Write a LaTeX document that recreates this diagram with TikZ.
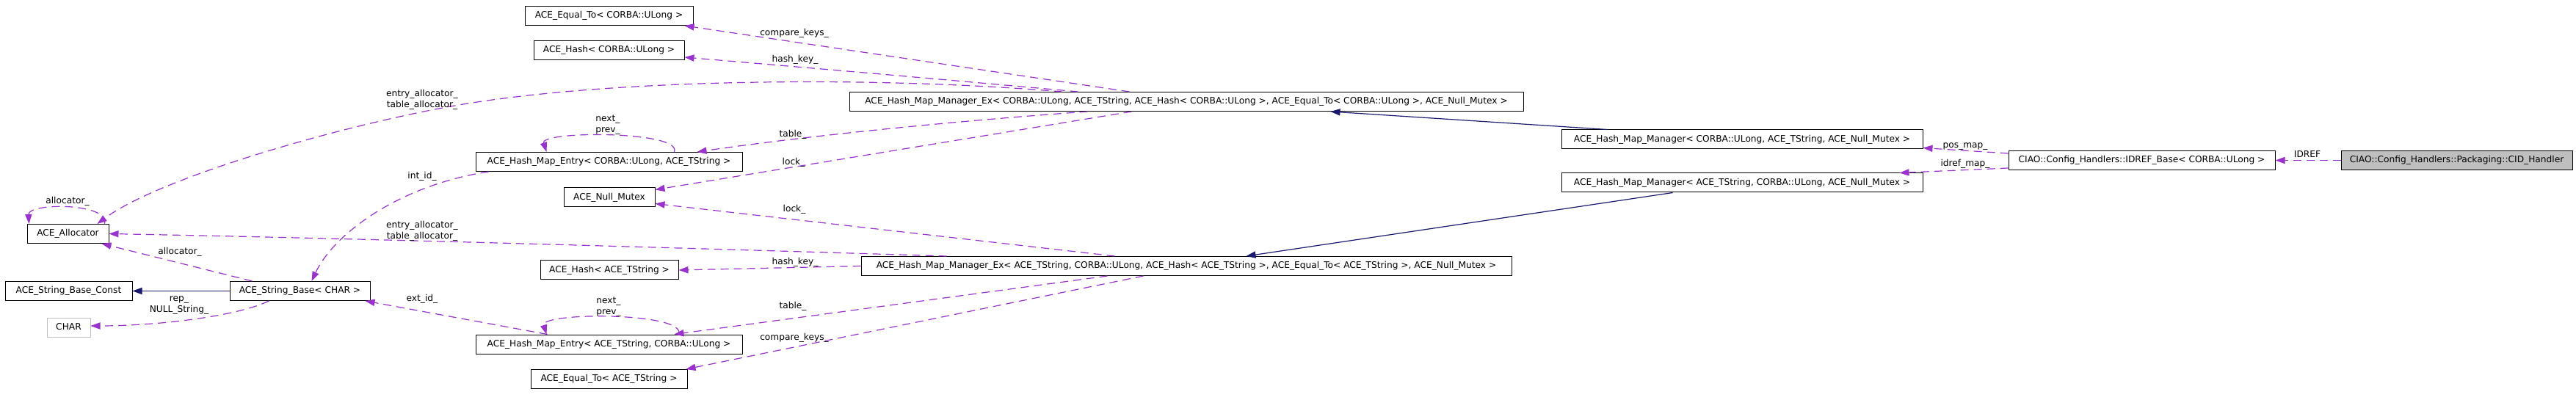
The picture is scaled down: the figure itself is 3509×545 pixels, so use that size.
\documentclass[tikz,border=0pt]{standalone}
\usepackage{fontspec}
\setmainfont{DejaVu Sans}
\usetikzlibrary{arrows.meta,calc}
\definecolor{usecol}{HTML}{9A32CD}
\definecolor{inhcol}{HTML}{191970}
\definecolor{greyS}{HTML}{BFBFBF}
\begin{document}
\begin{tikzpicture}[x=0.5pt,y=-0.5pt,
  every node/.style={font=\fontsize{6.1}{7.5}\selectfont},
  cls/.style={draw=black, line width=0.5pt, fill=white, inner sep=0pt, minimum height=13pt, text height=4.6pt, text depth=1.3pt},
  bw/.style={minimum width=#1*0.5pt},
  lbl/.style={align=center, inner sep=0pt},
  usedge/.style={draw=usecol, line width=0.6pt, dash pattern=on 5.5pt off 3.5pt, -{Triangle[length=6.5pt,width=4.6pt]}},
  inhedge/.style={draw=inhcol, line width=0.6pt, -{Triangle[length=6.5pt,width=4.6pt]}}]
\fill[white] (0,0) rectangle (3509,545);
\useasboundingbox (0,0) rectangle (3509,545);

% classes
\node[cls,bw=229] (EqCU) at (829.5,21.5) {ACE\_Equal\_To< CORBA::ULong >};
\node[cls,bw=205] (HashCU) at (829.5,68.5) {ACE\_Hash< CORBA::ULong >};
\node[cls,bw=918] (ExCU) at (1616,138.5) {ACE\_Hash\_Map\_Manager\_Ex< CORBA::ULong, ACE\_TString, ACE\_Hash< CORBA::ULong >, ACE\_Equal\_To< CORBA::ULong >, ACE\_Null\_Mutex >};
\node[cls,bw=363] (EntryCU) at (829.5,220.5) {ACE\_Hash\_Map\_Entry< CORBA::ULong, ACE\_TString >};
\node[cls,bw=124] (NullMutex) at (830,269) {ACE\_Null\_Mutex};
\node[cls,bw=111] (Allocator) at (92.5,318.5) {ACE\_Allocator};
\node[cls,bw=173] (StrBaseConst) at (93.5,396.5) {ACE\_String\_Base\_Const};
\node[cls,bw=191] (StrBase) at (408.5,396.5) {ACE\_String\_Base< CHAR >};
\node[cls,bw=59,draw=greyS] (CHAR) at (93.5,446) {CHAR};
\node[cls,bw=188] (HashTS) at (830,368) {ACE\_Hash< ACE\_TString >};
\node[cls,bw=886] (ExTS) at (1616,362.5) {ACE\_Hash\_Map\_Manager\_Ex< ACE\_TString, CORBA::ULong, ACE\_Hash< ACE\_TString >, ACE\_Equal\_To< ACE\_TString >, ACE\_Null\_Mutex >};
\node[cls,bw=363] (EntryTS) at (829.5,469) {ACE\_Hash\_Map\_Entry< ACE\_TString, CORBA::ULong >};
\node[cls,bw=213] (EqTS) at (829.5,516.5) {ACE\_Equal\_To< ACE\_TString >};
\node[cls,bw=492] (HMMCU) at (2373,190) {ACE\_Hash\_Map\_Manager< CORBA::ULong, ACE\_TString, ACE\_Null\_Mutex >};
\node[cls,bw=492] (HMMTS) at (2373,249) {ACE\_Hash\_Map\_Manager< ACE\_TString, CORBA::ULong, ACE\_Null\_Mutex >};
\node[cls,bw=363] (IDREF) at (2917.5,218.5) {CIAO::Config\_Handlers::IDREF\_Base< CORBA::ULong >};
\node[cls,bw=315,fill=greyS] (CID) at (3346.5,218.5) {CIAO::Config\_Handlers::Packaging::CID\_Handler};

% usage edges (top map)
\draw[usedge] ($(ExCU.north west)+(382,0)$) -- ($(EqCU.south east)+(-12,0)$);
\draw[usedge] ($(ExCU.north west)+(312,0)$) .. controls (1250,105) and (1050,88) .. ($(HashCU.east)+(0,9.5)$);
\draw[usedge] ($(ExCU.north west)+(290,0)$) .. controls (1200,104) and (850,106) .. (631,142) .. controls (480,167) and (220,240) .. ($(Allocator.north east)+(-16,0)$);
\draw[usedge] ($(ExCU.south west)+(325,0)$) .. controls (1300,165) and (1100,185) .. ($(EntryCU.north east)+(-62,0)$);
\draw[usedge] ($(ExCU.south west)+(385,0)$) -- ($(NullMutex.north east)+(0,3)$);
\draw[usedge] ($(EntryCU.north east)+(-93,0)$) .. controls (930,178) and (735,178) .. ($(EntryCU.north west)+(97,0)$);
\draw[usedge] ($(EntryCU.south west)+(18,0)$) .. controls (545,252) and (455,318) .. ($(StrBase.north west)+(112,0)$);
% usage edges (bottom map)
\draw[usedge] ($(ExTS.north west)+(117,0)$) .. controls (1000,340) and (500,325) .. (Allocator.east);
\draw[usedge] ($(ExTS.north west)+(346,0)$) -- ($(NullMutex.south east)+(0,-5)$);
\draw[usedge] (ExTS.west) -- (HashTS.east);
\draw[usedge] ($(ExTS.south west)+(336,0)$) -- ($(EntryTS.north east)+(-93,0)$);
\draw[usedge] ($(ExTS.south west)+(385,0)$) -- ($(EqTS.north east)+(-2,0)$);
\draw[usedge] ($(EntryTS.north east)+(-87,0)$) .. controls (936,425) and (735,425) .. ($(EntryTS.north west)+(97,0)$);
\draw[usedge] ($(EntryTS.north west)+(98,0)$) -- ($(StrBase.south east)+(-7,0)$);
% string / allocator
\draw[usedge] ($(StrBase.north west)+(31,0)$) -- ($(Allocator.south east)+(-10,0)$);
\draw[usedge] ($(StrBase.south west)+(54,0)$) .. controls (320,432) and (210,444) .. ($(CHAR.east)+(0,-2)$);
\draw[usedge] ($(Allocator.north east)+(-6,0)$) .. controls (150,276) and (38,276) .. ($(Allocator.north west)+(3,0)$);
% right part
\draw[usedge] ($(IDREF.north west)+(0,4)$) -- ($(HMMCU.south east)+(0,-2)$);
\draw[usedge] ($(IDREF.south west)+(0,-3)$) -- ($(HMMTS.north east)+(-32,0)$);
\draw[usedge] (CID.west) -- (IDREF.east);
% inheritance
\draw[inhedge] ($(HMMCU.north west)+(63,0)$) -- ($(ExCU.south west)+(656,0)$);
\draw[inhedge] ($(HMMTS.south west)+(152,0)$) -- ($(ExTS.north west)+(525,0)$);
\draw[inhedge] (StrBase.west) -- (StrBaseConst.east);

% labels
\node[lbl] (l1) at (1082,45) {compare\_keys\_};
\node[lbl] (l2) at (1083,81) {hash\_key\_};
\node[lbl] (l3) at (575,136) {entry\_allocator\_\\table\_allocator\_};
\node[lbl] (l4) at (1080,183) {table\_};
\node[lbl] (l5) at (1081,221) {lock\_};
\node[lbl] (l6) at (828,170) {next\_\\prev\_};
\node[lbl] (l7) at (575,240) {int\_id\_};
\node[lbl] (l8) at (92,274) {allocator\_};
\node[lbl] (l9) at (575,315) {entry\_allocator\_\\table\_allocator\_};
\node[lbl] (l10) at (245,343) {allocator\_};
\node[lbl] (l11) at (1082,285) {lock\_};
\node[lbl] (l12) at (1083,357) {hash\_key\_};
\node[lbl] (l13) at (575,407) {ext\_id\_};
\node[lbl] (l14) at (244,416) {rep\_\\NULL\_String\_};
\node[lbl] (l15) at (829,418) {next\_\\prev\_};
\node[lbl] (l16) at (1080,417) {table\_};
\node[lbl] (l17) at (1082,460) {compare\_keys\_};
\node[lbl] (l18) at (2677,200) {pos\_map\_};
\node[lbl] (l19) at (2677,223) {idref\_map\_};
\node[lbl] (l20) at (3143,210) {IDREF};
\end{tikzpicture}
\end{document}
